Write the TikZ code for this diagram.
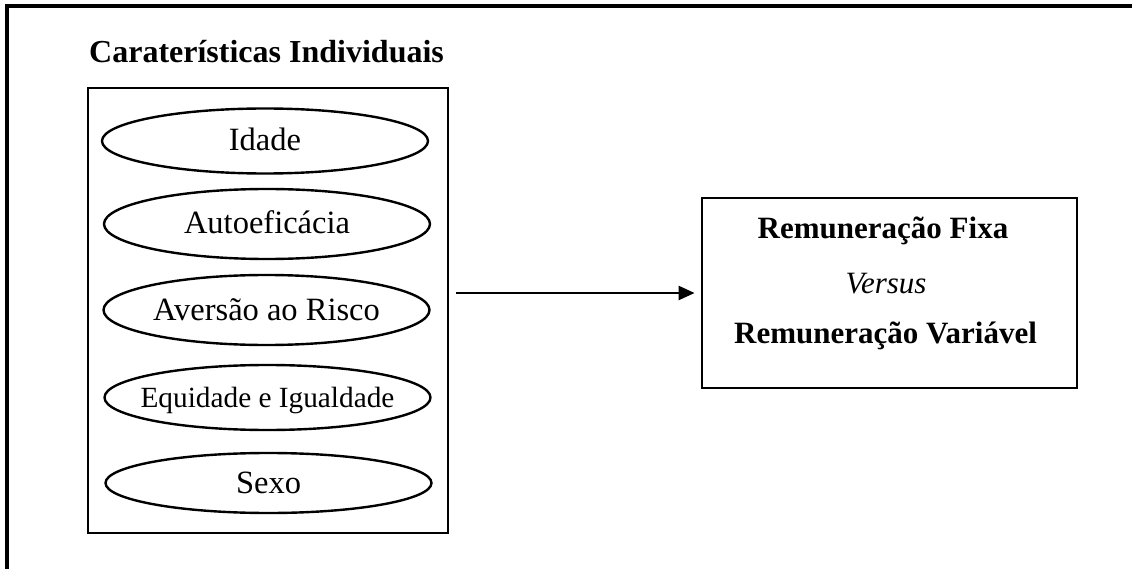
\documentclass[tikz,border=0pt]{standalone}
\usepackage{fontspec}
\setmainfont{Liberation Serif}
\usetikzlibrary{shapes.geometric,arrows.meta}
\newcommand\elltext[1]{\makebox[0pt]{#1}}
\begin{document}
\begin{tikzpicture}[x=1pt,y=-1pt,
  ell/.style={ellipse, draw, line width=2.4pt, inner sep=0pt, minimum width=326pt,
    text height=26pt, text depth=6pt, font=\fontsize{32.5}{38}\selectfont},
  frame/.style={draw, line width=2.8pt, inner sep=0pt},
  lbl/.style={anchor=base, inner sep=0pt, font=\fontsize{31}{37}\selectfont},
  conn/.style={line width=2.4pt, -{Triangle[length=16pt,width=14pt]}}]
\useasboundingbox (0,0) rectangle (1132,569);
% outer border (only top and left sides are visible)
\draw[line width=3.3pt] (7,580) -- (7,6) -- (1145,6);
% title
\node[anchor=base west, inner sep=0pt, font=\fontsize{32}{38}\selectfont\bfseries] (title) at (89,63) {Caraterísticas Individuais};
% characteristics box
\node[frame, minimum width=360pt, minimum height=445pt] (chars) at (268,310.5) {};
\node[ell, minimum height=65pt] (idade) at (265,141) {\elltext{Idade}};
\node[ell, minimum height=70pt] (auto) at (267,224) {\elltext{Autoeficácia}};
\node[ell, minimum height=70pt] (aver) at (266.5,310) {\elltext{Aversão ao Risco}};
\node[ell, minimum height=65pt, font=\fontsize{29.3}{35}\selectfont] (equi) at (267.5,397.5) {\elltext{Equidade e Igualdade}};
\node[ell, minimum height=60pt] (sexo) at (268.5,483) {\elltext{Sexo}};
% result box
\node[frame, minimum width=375pt, minimum height=190pt] (res) at (889.5,293) {};
\node[lbl, font=\fontsize{31}{37}\selectfont\bfseries] (fixa) at (883,239) {Remuneração Fixa};
\node[lbl, font=\fontsize{31}{37}\selectfont\itshape] (versus) at (886,294) {Versus};
\node[lbl, font=\fontsize{31}{37}\selectfont\bfseries] (var) at (885.5,343) {Remuneração Variável};
% connector
\draw[conn, shorten <=7pt, shorten >=6pt] (chars.east |- res.west) -- (res.west);
\end{tikzpicture}
\end{document}
